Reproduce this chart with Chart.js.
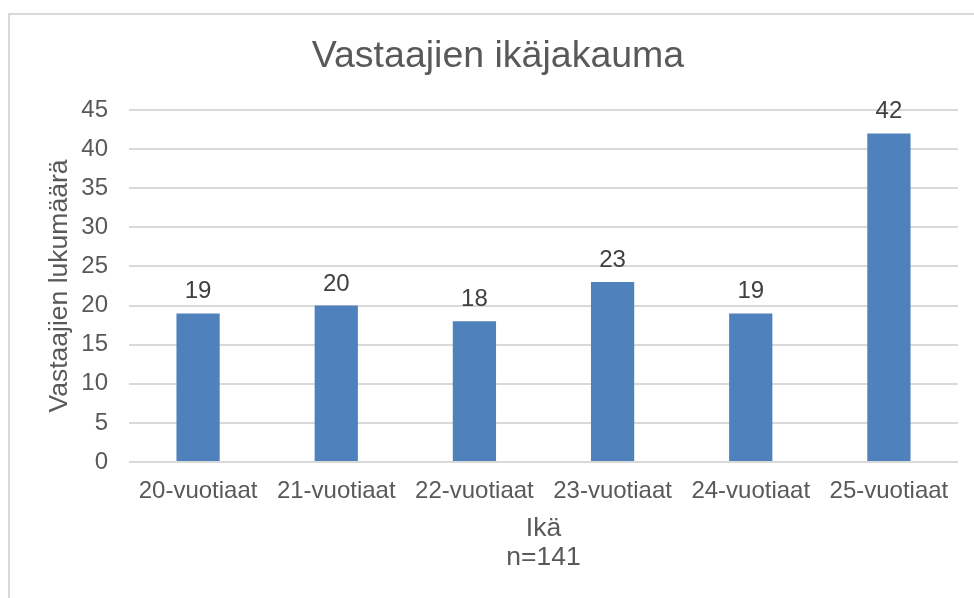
<!DOCTYPE html>
<html>
<head>
<meta charset="utf-8">
<script src="https://cdn.jsdelivr.net/npm/chart.js@4"></script>
<style>
    html, body { margin: 0; padding: 0; background: #ffffff; }
    #wrap { position: absolute; left: 0; top: 0; width: 974px; height: 598px; }
    #frame { position: absolute; left: 8px; top: 13px; width: 1000px; height: 1000px;
             border: 2px solid #d9d9d9; pointer-events: none; }
</style>
</head>
<body>
<div id="wrap"><canvas id="age-chart"></canvas></div>
<div id="frame"></div>
<script>
const categories = ['20-vuotiaat', '21-vuotiaat', '22-vuotiaat', '23-vuotiaat', '24-vuotiaat', '25-vuotiaat'];
const counts = [19, 20, 18, 23, 19, 42];
const yTicks = [0, 5, 10, 15, 20, 25, 30, 35, 40, 45];
const chartTitle = 'Vastaajien ikäjakauma';

const textColor = '#595959';
const fontFamily = '"Liberation Sans", Arial, sans-serif';

// title (centred on the whole frame, not only the plot) and value labels above the bars
const barLabels = {
    id: 'barLabels',
    afterDatasetsDraw(chart) {
        const ctx = chart.ctx;
        const meta = chart.getDatasetMeta(0);
        ctx.save();
        ctx.font = '37.5px ' + fontFamily;
        ctx.fillStyle = textColor;
        ctx.textAlign = 'center';
        ctx.textBaseline = 'middle';
        ctx.fillText(chartTitle, 498, 57);

        ctx.font = '24px ' + fontFamily;
        ctx.fillStyle = '#404040';
        ctx.textBaseline = 'alphabetic';
        meta.data.forEach(function (bar, i) {
            ctx.fillText(String(counts[i]), bar.x, bar.y - 15);
        });
        ctx.restore();
    }
};

new Chart(
    document.getElementById('age-chart'),
    {
        type: 'bar',
        data: {
            labels: categories,
            datasets: [
                {
                    label: 'Vastaajien lukumäärä',
                    data: counts,
                    backgroundColor: '#4F81BD',
                    borderWidth: 0,
                    categoryPercentage: 1,
                    barPercentage: 0.313
                }
            ]
        },
        options: {
            responsive: true,
            maintainAspectRatio: false,
            animation: false,
            layout: {
                padding: { left: 0, right: 16, top: 110, bottom: 26 }
            },
            plugins: {
                legend: { display: false },
                tooltip: { enabled: false },
                title: { display: false }
            },
            scales: {
                x: {
                    grid: { display: false, drawTicks: false },
                    border: { display: false },
                    ticks: {
                        color: textColor,
                        padding: 15,
                        maxRotation: 0,
                        font: { family: fontFamily, size: 24 }
                    },
                    title: {
                        display: true,
                        text: ['Ikä', 'n=141'],
                        color: textColor,
                        padding: 0,
                        font: { family: fontFamily, size: 26.5, lineHeight: 1.1 }
                    },
                    afterFit(scale) { scale.height = 110; }
                },
                y: {
                    min: 0,
                    max: 45,
                    afterBuildTicks(scale) {
                        scale.ticks = yTicks.map(v => ({ value: v }));
                    },
                    grid: { color: '#d9d9d9', lineWidth: 2, drawTicks: false },
                    border: { display: false },
                    ticks: {
                        color: textColor,
                        padding: 21,
                        font: { family: fontFamily, size: 24 }
                    },
                    title: {
                        display: true,
                        text: 'Vastaajien lukumäärä',
                        color: textColor,
                        padding: { top: 44, bottom: 0 },
                        font: { family: fontFamily, size: 26.5, lineHeight: 1.2 }
                    },
                    afterFit(scale) { scale.width = 129; }
                }
            }
        },
        plugins: [barLabels]
    }
);
</script>
</body>
</html>
